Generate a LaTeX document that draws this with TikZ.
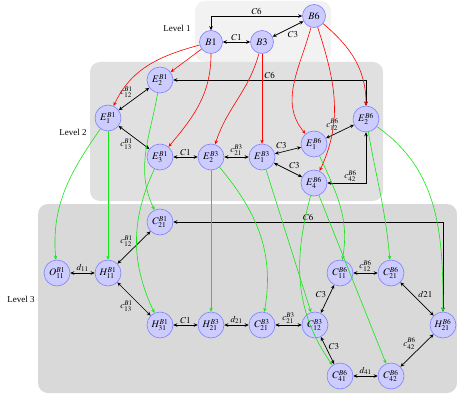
\documentclass[tikz,border=0pt]{standalone}
\usepackage{mathptmx}
\usepackage[no-math]{fontspec}
\setmainfont{Liberation Serif}
\usetikzlibrary{arrows.meta}
\definecolor{grn}{RGB}{20,230,20}
\definecolor{lvA}{RGB}{242,242,242}
\definecolor{lvB}{RGB}{224,224,224}
\definecolor{lvC}{RGB}{217,217,217}
\begin{document}
\begin{tikzpicture}[x=1pt,y=-1pt,
  nd/.style={circle,draw=blue!50,fill=blue!20,line width=0.6pt,minimum size=26pt,inner sep=0pt,font=\fontsize{10}{11}\selectfont},
  ndb/.style={nd,minimum size=23pt},
  bi/.style={{Stealth[length=4pt,width=3.6pt]}-{Stealth[length=4pt,width=3.6pt]},line width=0.7pt,black},
  redar/.style={-{Stealth[length=4pt,width=3.4pt]},line width=0.6pt,red},
  grnar/.style={-{Stealth[length=4pt,width=3.4pt]},line width=0.6pt,grn},
  lab/.style={font=\fontsize{9}{10}\selectfont,inner sep=1pt},
  lvl/.style={font=\fontsize{9}{10}\selectfont}]
\useasboundingbox (0,0) rectangle (457,398);
% level boxes
\fill[lvA,rounded corners=10pt] (195,1) rectangle (331,62);
\fill[lvB,rounded corners=10pt] (90,62) rectangle (383,201);
\fill[lvC,rounded corners=10pt] (38,204) rectangle (457,393);
\node[lvl] (L1) at (177,28) {Level 1};
\node[lvl] (L2) at (73,132) {Level 2};
\node[lvl] (L3) at (21,299) {Level 3};
% level 1 nodes
\node[ndb] (B1) at (211,42) {$B1$};
\node[ndb] (B3) at (262,42) {$B3$};
\node[ndb] (B6) at (314,16) {$B6$};
% level 2 nodes
\node[nd] (E2B1) at (160,80) {$E_2^{B1}$};
\node[nd] (E1B1) at (108,118) {$E_1^{B1}$};
\node[nd] (E3B1) at (160,157) {$E_3^{B1}$};
\node[nd] (E2B3) at (211,157) {$E_2^{B3}$};
\node[nd] (E1B3) at (262,157) {$E_1^{B3}$};
\node[nd] (E1B6) at (314,144) {$E_1^{B6}$};
\node[nd] (E4B6) at (314,183) {$E_4^{B6}$};
\node[nd] (E2B6) at (366,119) {$E_2^{B6}$};
% level 3 nodes
\node[nd] (C21B1) at (160,222) {$C_{21}^{B1}$};
\node[nd] (O11) at (57,273) {$O_{11}^{B1}$};
\node[nd] (H11) at (108,273) {$H_{11}^{B1}$};
\node[nd] (H31) at (160,325) {$H_{31}^{B1}$};
\node[nd] (H21B3) at (211,325) {$H_{21}^{B3}$};
\node[nd] (C21B3) at (262,325) {$C_{21}^{B3}$};
\node[nd] (C12B3) at (315,325) {$C_{12}^{B3}$};
\node[nd] (C11B6) at (340,273) {$C_{11}^{B6}$};
\node[nd] (C21B6) at (391,273) {$C_{21}^{B6}$};
\node[nd] (H21B6) at (443,325) {$H_{21}^{B6}$};
\node[nd] (C41B6) at (340,376) {$C_{41}^{B6}$};
\node[nd] (C42B6) at (391,376) {$C_{42}^{B6}$};
% level 1 edges
\draw[bi] (B1) -- node[lab,above] {$C1$} (B3);
\draw[bi] (B3) -- node[lab,below right,pos=0.45] {$C3$} (B6);
\draw[bi] (B1.north) |- node[lab,above,pos=0.75] {$C6$} (B6.west);
% level 2 edges
\draw[bi] (E2B1.east) -| node[lab,above,pos=0.25] {$C6$} (E2B6.north);
\draw[bi] (E1B1) -- node[lab,above left] {$c_{12}^{B1}$} (E2B1);
\draw[bi] (E1B1) -- node[lab,below left] {$c_{13}^{B1}$} (E3B1);
\draw[bi] (E3B1) -- node[lab,above] {$C1$} (E2B3);
\draw[bi] (E2B3) -- node[lab,above] {$c_{21}^{B3}$} (E1B3);
\draw[bi] (E1B3) -- node[lab,above left] {$C3$} (E1B6);
\draw[bi] (E1B3) -- node[lab,above right] {$C3$} (E4B6);
\draw[bi] (E1B6) -- node[lab,above left] {$c_{12}^{B6}$} (E2B6);
\draw[bi] (E4B6.east) -| node[lab,above,pos=0.3] {$c_{42}^{B6}$} (E2B6.south);
% level 3 edges
\draw[bi] (C21B1.east) -| node[lab,above,pos=0.25] {$C6$} (H21B6.north);
\draw[bi] (O11) -- node[lab,above] {$d_{11}$} (H11);
\draw[bi] (H11) -- node[lab,above left] {$c_{12}^{B1}$} (C21B1);
\draw[bi] (H11) -- node[lab,below left] {$c_{13}^{B1}$} (H31);
\draw[bi] (H31) -- node[lab,above] {$C1$} (H21B3);
\draw[bi] (H21B3) -- node[lab,above] {$d_{21}$} (C21B3);
\draw[bi] (C21B3) -- node[lab,above] {$c_{21}^{B3}$} (C12B3);
\draw[bi] (C12B3) -- node[lab,above left] {$C3$} (C11B6);
\draw[bi] (C12B3) -- node[lab,above right] {$C3$} (C41B6);
\draw[bi] (C41B6) -- node[lab,above] {$d_{41}$} (C42B6);
\draw[bi] (C42B6) -- node[lab,above left] {$c_{42}^{B6}$} (H21B6);
\draw[bi] (H21B6) -- node[lab,above right] {$d21$} (C21B6);
\draw[bi] (C11B6) -- node[lab,above] {$c_{12}^{B6}$} (C21B6);
% red arrows
\draw[redar] (B1) -- (E2B1);
\draw[redar] (B1) to[out=195,in=65] (E1B1);
\draw[redar] (B1.south) to[out=-90,in=50] (E3B1);
\draw[redar] (B3) to[out=-105,in=72] (E2B3);
\draw[redar] (B3) -- (E1B3);
\draw[redar] (B6) to[out=-105,in=130] (E1B6);
\draw[redar] (B6) to[out=-72,in=65] (E4B6);
\draw[redar] (B6) to[out=-40,in=90] (E2B6);
% green arrows
\draw[grnar] (E1B1) to[out=-125,in=95] (O11);
\draw[grnar] (E1B1) -- (H11);
\draw[grnar] (E2B1) to[out=-100,in=115] (C21B1);
\draw[grnar] (E3B1) to[out=-115,in=115] (H31);
\draw[grnar] (E2B3) -- (H21B3);
\draw[grnar] (E2B3) to[out=-50,in=80] (C21B3);
\draw[grnar] (E1B3) -- (C12B3);
\draw[grnar] (E4B6) to[out=-105,in=125] (C41B6);
\draw[grnar] (E4B6) -- (C42B6);
\draw[grnar] (E1B6) to[out=-65,in=80] (C11B6);
\draw[grnar] (E2B6) to[out=-80,in=95] (C21B6);
\draw[grnar] (E2B6) to[out=-35,in=90] (H21B6);
\end{tikzpicture}
\end{document}
